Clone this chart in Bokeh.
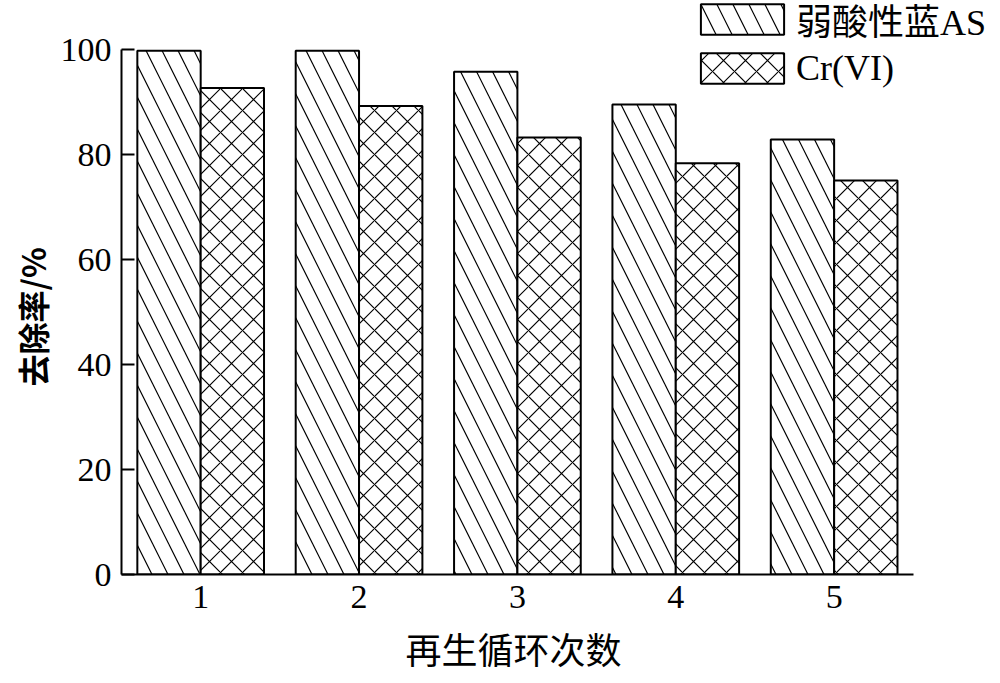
from bokeh.plotting import figure
from bokeh.models import ColumnDataSource, Range1d, FixedTicker, Legend, LegendItem, Title
from bokeh.transform import dodge
from bokeh.embed import file_html
from bokeh.resources import INLINE

cycles = [1, 2, 3, 4, 5]
as_removal = [99.8, 99.8, 95.8, 89.6, 82.9]
cr_removal = [92.7, 89.3, 83.3, 78.4, 75.1]
series_names = ["弱酸性蓝AS", "Cr(VI)"]
y_ticks = [0, 20, 40, 60, 80, 100]
x_title = "再生循环次数"
y_title = "去除率/%"

src = ColumnDataSource(data=dict(cycle=cycles, as_r=as_removal, cr_r=cr_removal))

p = figure(width=992, height=683, output_backend="svg", toolbar_location=None,
           x_range=Range1d(0.5, 6.0), y_range=Range1d(0, 109.4),
           min_border_left=121, min_border_right=0, min_border_top=0, min_border_bottom=109)

r1 = p.vbar(x=dodge("cycle", -0.2, range=p.x_range), top="as_r", width=0.4, source=src,
            fill_color="white", line_color="black", line_width=2,
            hatch_pattern="left_diagonal_line", hatch_color="black", hatch_scale=32, hatch_weight=1.2)
r2 = p.vbar(x=dodge("cycle", 0.2, range=p.x_range), top="cr_r", width=0.4, source=src,
            fill_color="white", line_color="black", line_width=2,
            hatch_pattern="diagonal_cross", hatch_color="black", hatch_scale=22, hatch_weight=1.2)

p.xgrid.visible = False
p.ygrid.visible = False
p.outline_line_color = None

serif = "Liberation Serif"
mixed = "Liberation Serif, Noto Sans CJK SC"
cjk = "Noto Sans CJK SC"

p.xaxis.bounds = (0.5, 5.5)
p.xaxis.ticker = FixedTicker(ticks=cycles)
p.xaxis.major_tick_in = 0
p.xaxis.major_tick_out = 0
p.xaxis.minor_tick_line_color = None
p.xaxis.axis_line_width = 2
p.xaxis.axis_line_color = "black"
p.xaxis.major_label_text_font = serif
p.xaxis.major_label_text_color = "black"
p.xaxis.major_label_text_font_size = "34px"
p.xaxis.major_label_text_line_height = 1.0
p.xaxis.major_label_standoff = 11

p.yaxis.bounds = (0, 100)
p.yaxis.ticker = FixedTicker(ticks=y_ticks)
p.yaxis.major_tick_in = 13
p.yaxis.major_tick_out = 0
p.yaxis.major_tick_line_width = 2
p.yaxis.major_tick_line_color = "black"
p.yaxis.minor_tick_line_color = None
p.yaxis.axis_line_width = 2
p.yaxis.axis_line_color = "black"
p.yaxis.major_label_text_font = serif
p.yaxis.major_label_text_color = "black"
p.yaxis.major_label_text_font_size = "34px"
p.yaxis.major_label_standoff = 10

xt = Title(text=x_title, align="left", offset=284, text_font=cjk, text_font_size="36px",
           text_font_style="normal", text_color="black", standoff=19)
p.add_layout(xt, "below")
yt = Title(text=y_title, align="left", offset=188, text_font=cjk, text_font_size="32px",
           text_font_style="bold", text_color="black", standoff=6)
p.add_layout(yt, "left")

legend = Legend(items=[LegendItem(label=series_names[0], renderers=[r1]),
                       LegendItem(label=series_names[1], renderers=[r2])],
                location=(569, 485), glyph_width=104, glyph_height=38, spacing=2,
                padding=0, margin=0, border_line_color=None, background_fill_alpha=0,
                label_standoff=2, label_text_font=mixed, label_text_line_height=1.0,
                label_text_color="black", label_text_font_size="36px", label_height=30)
p.add_layout(legend, "center")

open("out.html", "w").write(file_html(p, INLINE))
